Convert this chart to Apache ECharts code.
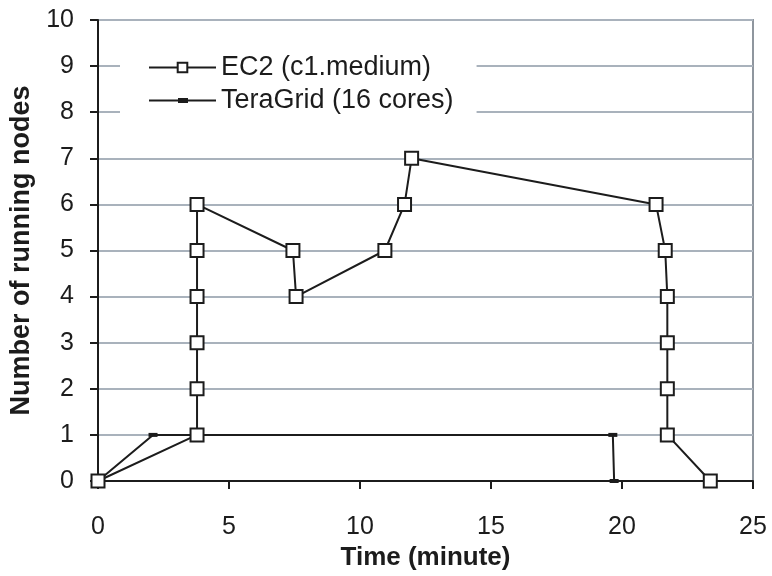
<!DOCTYPE html>
<html>
<head>
<meta charset="utf-8">
<script src="https://cdn.jsdelivr.net/npm/echarts@6/dist/echarts.min.js"></script>
<style>
  html, body { margin: 0; padding: 0; background: #fff; }
  #chart { width: 772px; height: 576px; }
</style>
</head>
<body>
<div id="chart"></div>
<script>
// EC2 (c1.medium) running nodes over time
const ec2Time = [0, 3.78, 3.78, 3.78, 3.78, 3.78, 3.78, 7.44, 7.56, 10.95, 11.7, 11.97, 21.3, 21.65, 21.73, 21.73, 21.73, 21.73, 23.37]
const ec2Nodes = [0, 1, 2, 3, 4, 5, 6, 5, 4, 5, 6, 7, 6, 5, 4, 3, 2, 1, 0]

// TeraGrid (16 cores)
const tgTime = [0, 2.1, 19.65, 19.7]
const tgNodes = [0, 1, 1, 0]

const xTicks = [0, 5, 10, 15, 20, 25]
const yTicks = [0, 1, 2, 3, 4, 5, 6, 7, 8, 9, 10]

const FONT = 'Liberation Sans, Arial, sans-serif'
const INK = '#1c1c1c'
// legend icon for TeraGrid: thin line with a small dash marker in the middle
const TG_ICON = 'path://M0,2h67v2h-67z M29,0.5h10v5h-10z'

const pairs = (xs, ys) => xs.map((x, i) => [x, ys[i]])

const chart = echarts.init(document.getElementById('chart'), null, { renderer: 'canvas' })

chart.setOption({
  animation: false,
  backgroundColor: '#fff',
  grid: {
    left: 98, right: 19, top: 20, bottom: 95,
    show: true,
    borderColor: '#8f969e',
    borderWidth: 2,
  },
  legend: {
    orient: 'vertical',
    left: 120,
    top: 42,
    backgroundColor: '#fff',
    padding: [12, 23, 16, 28],
    itemWidth: 67,
    itemHeight: 12,
    itemGap: 6,
    textStyle: { fontFamily: FONT, fontSize: 27, color: INK, lineHeight: 27 },
    data: [
      { name: 'EC2 (c1.medium)' },
      { name: 'TeraGrid (16 cores)', icon: TG_ICON },
    ],
  },
  xAxis: {
    type: 'value',
    min: xTicks[0],
    max: xTicks[xTicks.length - 1],
    interval: 5,
    name: 'Time (minute)',
    nameLocation: 'middle',
    nameGap: 62,
    nameTextStyle: { fontFamily: FONT, fontSize: 26, fontWeight: 'bold', color: INK },
    axisLine: { lineStyle: { color: INK, width: 2 } },
    axisTick: { show: true, length: 8, lineStyle: { color: INK, width: 2 } },
    axisLabel: { fontFamily: FONT, fontSize: 25, color: INK, margin: 34 },
    splitLine: { show: false },
  },
  yAxis: {
    type: 'value',
    min: yTicks[0],
    max: yTicks[yTicks.length - 1],
    interval: 1,
    name: 'Number of running nodes',
    nameLocation: 'middle',
    nameGap: 52,
    nameTextStyle: { fontFamily: FONT, fontSize: 27, fontWeight: 'bold', color: INK },
    axisLine: { show: true, lineStyle: { color: INK, width: 2 } },
    axisTick: { show: true, length: 8, lineStyle: { color: INK, width: 2 } },
    axisLabel: { fontFamily: FONT, fontSize: 25, color: INK, margin: 24 },
    splitLine: { show: true, lineStyle: { color: '#a9b2bc', width: 2 } },
  },
  series: [
    {
      name: 'EC2 (c1.medium)',
      type: 'line',
      data: pairs(ec2Time, ec2Nodes),
      symbol: 'rect',
      symbolSize: 13,
      itemStyle: { color: '#fff', borderColor: INK, borderWidth: 2 },
      lineStyle: { color: INK, width: 2 },
      z: 3,
    },
    {
      name: 'TeraGrid (16 cores)',
      type: 'line',
      data: pairs(tgTime, tgNodes),
      symbol: 'rect',
      symbolSize: [9, 4],
      itemStyle: { color: INK },
      lineStyle: { color: INK, width: 2 },
      z: 2,
    },
  ],
})
</script>
</body>
</html>
